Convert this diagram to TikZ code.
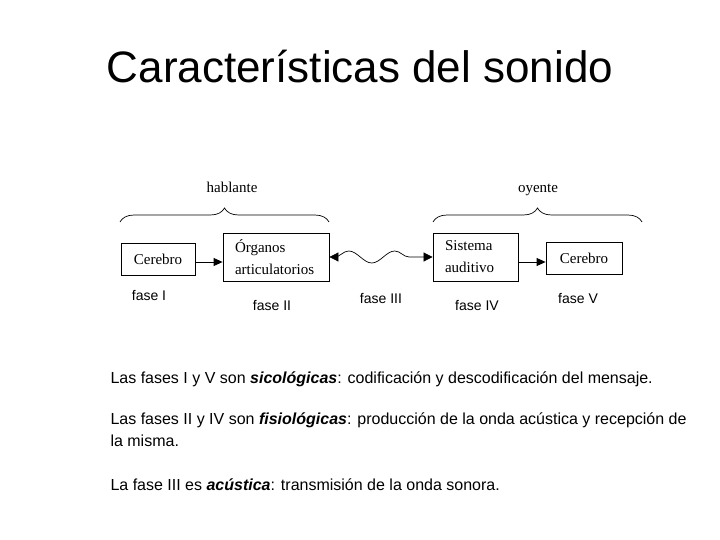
\documentclass[tikz,border=0pt]{standalone}
\usepackage{fontspec}
\setmainfont{Liberation Sans}
\newfontfamily\serifbox{Liberation Serif}
\usetikzlibrary{arrows.meta,decorations.pathreplacing,decorations.pathmorphing}
\begin{document}
\begin{tikzpicture}[x=1pt,y=-1pt,
  box/.style={draw,line width=0.8pt,inner sep=0pt,font=\serifbox\fontsize{15}{22}\selectfont},
  lbox/.style={box,align=left,inner xsep=12pt},
  arr/.style={-{Triangle[length=9pt,width=8pt]},line width=0.8pt},
  brc/.style={decorate,decoration={brace,amplitude=14pt},line width=0.7pt},
  fase/.style={font=\fontsize{14}{16}\selectfont},
  who/.style={anchor=base,font=\serifbox\fontsize{15}{18}\selectfont},
  body/.style={anchor=base west,font=\fontsize{16}{22}\selectfont,align=left}]
\useasboundingbox (0,0) rectangle (720,540);
\node[anchor=base,font=\fontsize{44}{50}\selectfont] (title) at (360,83) {Características del sonido};
% boxes
\node[box,minimum width=74pt,minimum height=32pt] (c1) at (158,259) {Cerebro};
\node[lbox,text width=82pt,minimum height=48pt] (org) at (276,257) {Órganos\\articulatorios};
\node[lbox,text width=61pt,minimum height=48pt] (sis) at (475.5,257) {Sistema\\auditivo};
\node[box,minimum width=76pt,minimum height=32pt] (c2) at (584,258) {Cerebro};
% connectors
\draw[arr] (c1.east |- 0,262) -- (org.west |- 0,262);
\draw[arr] (sis.east |- 0,262) -- (c2.west |- 0,262);
\draw[{Triangle[length=9pt,width=9pt]}-{Triangle[length=9pt,width=9pt]},line width=0.7pt,
  decorate,decoration={snake,amplitude=6pt,segment length=46pt,pre length=5pt,post length=5pt}]
  (org.east) -- (sis.west);
% braces
\coordinate (b1a) at (120,222);
\coordinate (b1b) at (329,222);
\coordinate (b2a) at (433,222);
\coordinate (b2b) at (642,222);
\draw[brc] (b1a) -- (b1b);
\draw[brc] (b2a) -- (b2b);
\node[who] (hab) at (232,193) {hablante};
\node[who] (oye) at (538,193) {oyente};
% fase labels
\node[fase] (f1) at (149,296) {fase I};
\node[fase] (f2) at (272,306) {fase II};
\node[fase] (f3) at (381,299) {fase III};
\node[fase] (f4) at (477,306) {fase IV};
\node[fase] (f5) at (578,299) {fase V};
% body text
\node[body] (t1) at (107,383) {Las fases I y V son \textbf{\textit{sicológicas}}: codificación y descodificación del mensaje.};
\node[body] (t2) at (107,446) {Las fases II y IV son \textbf{\textit{fisiológicas}}: producción de la onda acústica y recepción de\\la misma.};
\node[body] (t3) at (107,490) {La fase III es \textbf{\textit{acústica}}: transmisión de la onda sonora.};
\end{tikzpicture}
\end{document}
